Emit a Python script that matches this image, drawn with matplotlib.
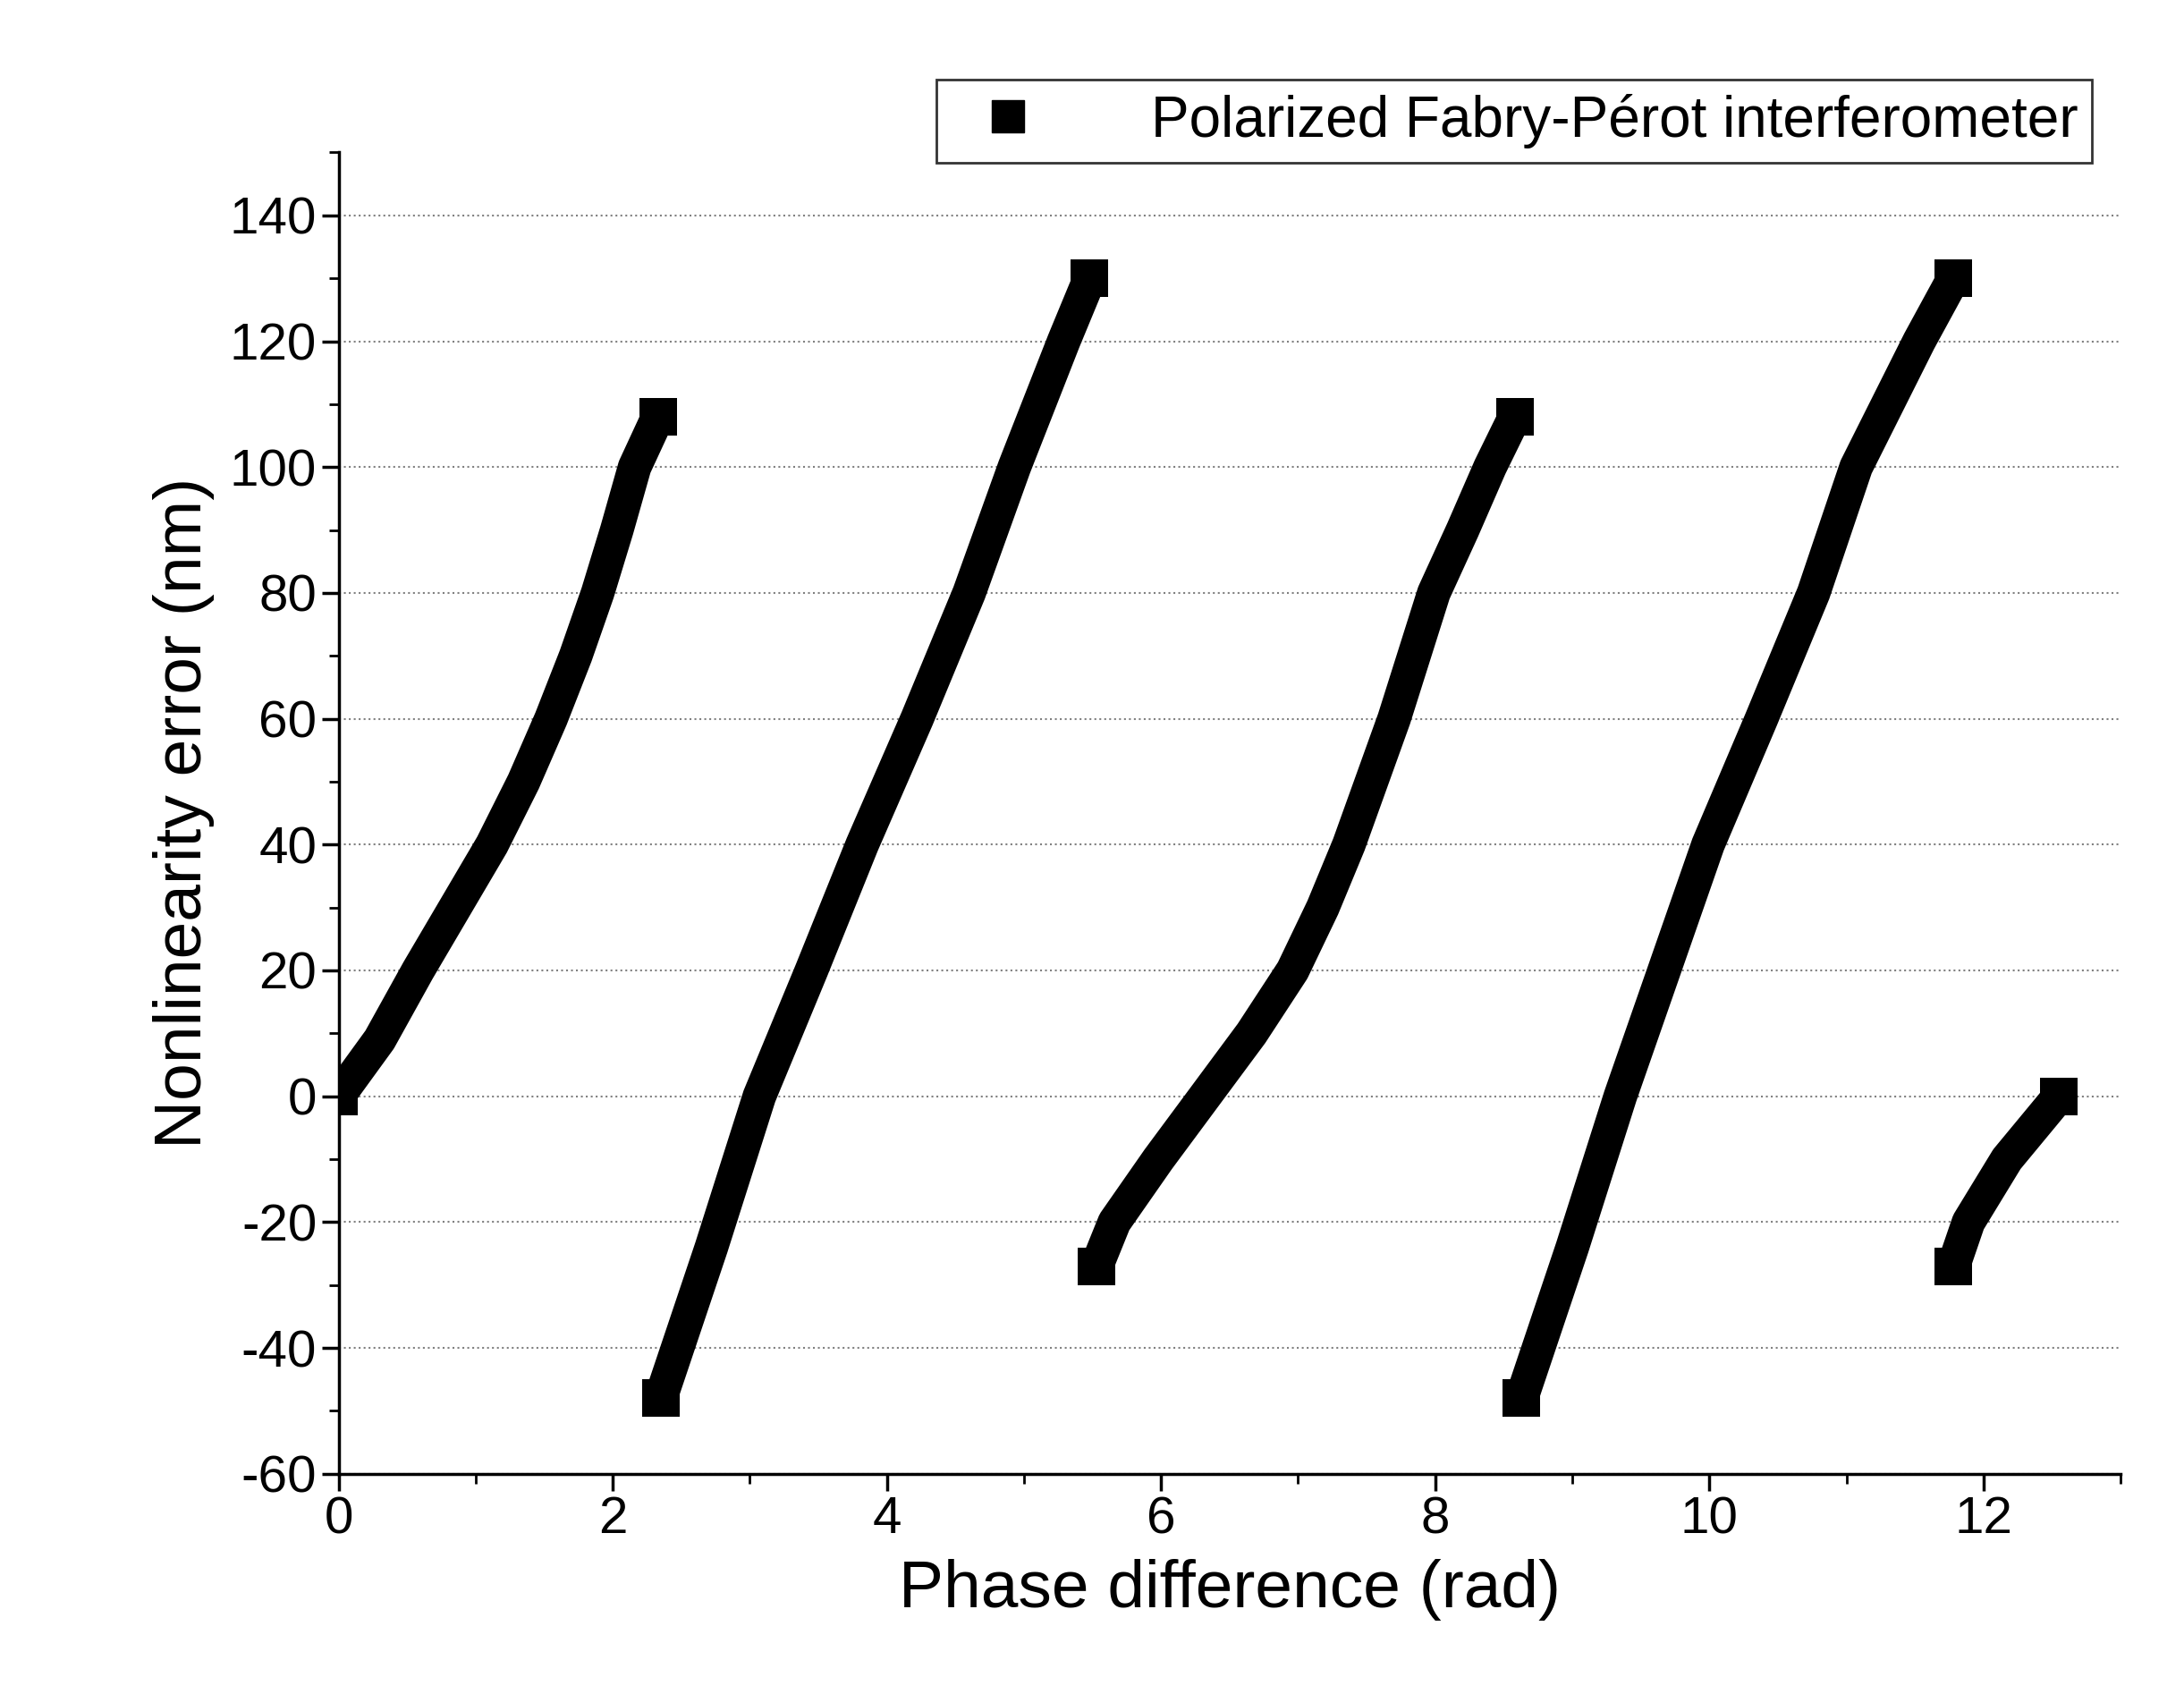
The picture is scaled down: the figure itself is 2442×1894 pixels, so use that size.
import matplotlib
matplotlib.use("Agg")
import matplotlib.pyplot as plt
from matplotlib.lines import Line2D

plt.rcParams['font.family'] = ['Liberation Sans', 'DejaVu Sans']
plt.rcParams['axes.unicode_minus'] = False

seg1_x = [0.0, 0.3, 0.58, 0.85, 1.12, 1.35, 1.55, 1.73, 1.89, 2.03, 2.16, 2.33]
seg1_y = [0, 9, 20, 30, 40, 50, 60, 70, 80, 90, 100, 108]
seg2_x = [2.35, 2.72, 3.07, 3.45, 3.82, 4.22, 4.6, 4.93, 5.29, 5.48]
seg2_y = [-48, -24, 0, 20, 40, 60, 80, 100, 120, 130]
seg3_x = [5.53, 5.66, 5.98, 6.32, 6.66, 6.96, 7.18, 7.37, 7.70, 7.99, 8.20, 8.40, 8.58]
seg3_y = [-27, -20, -10, 0, 10, 20, 30, 40, 60, 80, 90, 100, 108]
seg4_x = [8.63, 9.0, 9.35, 9.67, 9.99, 10.38, 10.76, 11.07, 11.53, 11.78]
seg4_y = [-48, -24, 0, 20, 40, 60, 80, 100, 120, 130]
seg5_x = [11.78, 11.89, 12.03, 12.17, 12.36, 12.55]
seg5_y = [-27, -20, -15, -10, -5, 0]
segments = [(seg1_x, seg1_y), (seg2_x, seg2_y), (seg3_x, seg3_y), (seg4_x, seg4_y), (seg5_x, seg5_y)]
label = "Polarized Fabry-Pérot interferometer"

fig = plt.figure(figsize=(24.42, 18.94), dpi=100)
ax = fig.add_axes([0.155, 0.13, 0.816, 0.78])
for xs, ys in segments:
    ax.plot(xs, ys, color='black', lw=27, solid_capstyle='butt', solid_joinstyle='round')
    ax.plot([xs[0], xs[-1]], [ys[0], ys[-1]], 's', color='black', ms=30, mew=0)

ax.set_xlim(0, 13)
ax.set_ylim(-60, 150)
ax.set_xticks(range(0, 13, 2))
ax.set_xticks(range(0, 14), minor=True)
ax.set_yticks(range(-60, 141, 20))
ax.set_yticks(range(-60, 151, 10), minor=True)
ax.grid(axis='y', which='major', linestyle=':', color='grey', lw=1.5)
for s in ['top', 'right']:
    ax.spines[s].set_visible(False)
for s in ['left', 'bottom']:
    ax.spines[s].set_linewidth(2.5)
ax.tick_params(which='major', length=14, width=2.5, labelsize=42, direction='out')
ax.tick_params(which='minor', length=8, width=2, direction='out')
ax.set_xlabel('Phase difference (rad)', fontsize=54, labelpad=12)
ax.set_ylabel('Nonlinearity error (nm)', fontsize=54, labelpad=12)

h = Line2D([], [], marker='s', color='black', ls='none', ms=26)
leg = fig.legend([h], [label], loc='upper right', bbox_to_anchor=(0.971, 0.97),
                 fontsize=46, frameon=True, fancybox=False, edgecolor='black',
                 handletextpad=1.5, borderpad=0.25)
leg.get_frame().set_linewidth(2)
fig.savefig('out.png', dpi=100)
